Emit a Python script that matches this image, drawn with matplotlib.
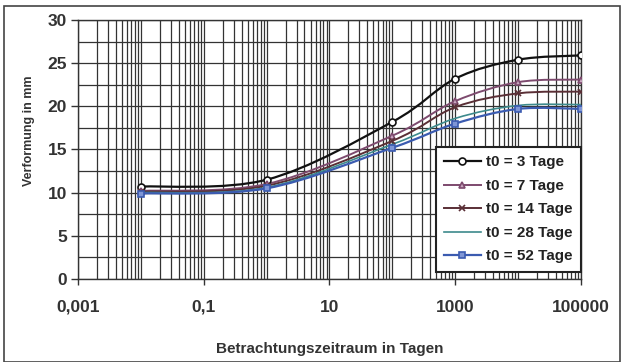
import numpy as np
import matplotlib
matplotlib.use("Agg")
import matplotlib.pyplot as plt
from matplotlib.path import Path
from matplotlib.patches import PathPatch, Rectangle
from matplotlib.lines import Line2D
from matplotlib.ticker import FixedLocator, LogLocator, NullFormatter

plt.rcParams["font.family"] = ["Liberation Sans", "DejaVu Sans"]
plt.rcParams["font.weight"] = "bold"

# Betrachtungszeitraum in Tagen
days = [0.01, 1, 100, 1000, 10000, 100000]

# Verformung in mm je Belastungsbeginn t0
t0_3 = [10.7, 11.5, 18.2, 23.2, 25.4, 25.9]
t0_7 = [10.2, 11.0, 16.6, 20.6, 22.8, 23.1]
t0_14 = [10.1, 10.8, 16.0, 19.9, 21.5, 21.7]
t0_28 = [10.0, 10.6, 15.6, 18.6, 20.1, 20.2]
t0_52 = [9.9, 10.5, 15.2, 18.0, 19.7, 19.7]

labels = ["t0 = 3 Tage", "t0 = 7 Tage", "t0 = 14 Tage", "t0 = 28 Tage", "t0 = 52 Tage"]
xtick_vals = [0.001, 0.1, 10, 1000, 100000]
xtick_labels = ["0,001", "0,1", "10", "1000", "100000"]

series = [t0_3, t0_7, t0_14, t0_28, t0_52]
styles = [
    dict(color="#111111", marker="o", mfc="white", ms=5, lw=1.6),
    dict(color="#7d4a6e", marker="^", mfc="#c9a8c0", ms=5, lw=1.4),
    dict(color="#5a2f36", marker="x", mfc="none", ms=5, lw=1.4),
    dict(color="#3d8a8c", marker="None", mfc="none", ms=0, lw=1.2),
    dict(color="#3b5bb0", marker="s", mfc="#7f96d6", ms=5, lw=1.6),
]


def smooth_path(xs, ys):
    # excel-like smoothed line: catmull-rom bezier in (log x, y)
    lx = np.log10(xs)
    pts = np.column_stack([lx, ys])
    p = np.vstack([pts[0], pts, pts[-1]])
    verts = [pts[0]]
    codes = [Path.MOVETO]
    for i in range(1, len(p) - 2):
        c1 = p[i] + (p[i + 1] - p[i - 1]) / 6
        c2 = p[i + 1] - (p[i + 2] - p[i]) / 6
        verts += [c1, c2, p[i + 1]]
        codes += [Path.CURVE4] * 3
    verts = np.array(verts)
    verts[:, 0] = 10 ** verts[:, 0]
    return Path(verts, codes)


fig = plt.figure(figsize=(6.24, 3.62), dpi=100)
ax = fig.add_axes([0.125, 0.2293, 0.806, 0.7155])

ax.set_xscale("log")
ax.set_xlim(0.001, 100000)
ax.set_ylim(0, 30)

handles = []
for ys, st, lab in zip(series, styles, labels):
    patch = PathPatch(smooth_path(days, ys), fill=False, edgecolor=st["color"],
                      lw=st["lw"], zorder=3)
    ax.add_patch(patch)
    if st["marker"] != "None":
        ax.plot(days, ys, ls="none", marker=st["marker"], color=st["color"],
                mfc=st["mfc"], mec=st["color"], ms=st["ms"], mew=1.2, zorder=4)
    handles.append(Line2D([], [], color=st["color"], lw=st["lw"], marker=st["marker"],
                          mfc=st["mfc"], mec=st["color"], ms=st["ms"], mew=1.2))

ax.xaxis.set_major_locator(FixedLocator(xtick_vals))
ax.set_xticklabels(xtick_labels)
ax.xaxis.set_minor_locator(LogLocator(base=10, subs=np.arange(1, 10), numticks=50))
ax.xaxis.set_minor_formatter(NullFormatter())
ax.set_yticks(np.arange(0, 31, 5))
ax.set_yticks(np.arange(2.5, 30, 5), minor=True)

ax.grid(True, which="both", color="#333333", lw=0.9)
ax.set_axisbelow(True)
ax.tick_params(axis="x", which="major", length=4, width=1, color="#333333",
               labelsize=12.5, pad=11)
ax.tick_params(axis="x", which="minor", length=0)
ax.tick_params(axis="y", which="major", length=5, width=1, color="#333333",
               labelsize=12.5, pad=3)
ax.tick_params(axis="y", which="minor", length=0)
for s in ax.spines.values():
    s.set_color("#333333")
    s.set_linewidth(1.0)
for t in ax.get_xticklabels() + ax.get_yticklabels():
    t.set_fontweight("bold")
    t.set_color("#333333")

ax.set_xlabel("Betrachtungszeitraum in Tagen", fontsize=11, fontweight="bold",
              color="#333333")
ax.xaxis.set_label_coords(0.501, -0.269)
ax.xaxis.label.set_va("center")
ax.set_ylabel("Verformung in mm", fontsize=9, fontweight="bold",
              color="#333333")
ax.yaxis.set_label_coords(-0.0974, 0.573)
ax.yaxis.label.set_va("center")

leg = ax.legend(handles, labels, loc="lower right", bbox_to_anchor=(1.0, 0.028),
                frameon=True, fancybox=False, handlelength=2.4,
                handletextpad=0.35, labelspacing=0.62, borderpad=0.55,
                borderaxespad=0.0, prop={"weight": "bold", "size": 11})
leg.get_frame().set_edgecolor("#222222")
leg.get_frame().set_linewidth(1.5)
leg.get_frame().set_alpha(1)
for t in leg.get_texts():
    t.set_color("#222222")

fig.patches.append(Rectangle((0.007, 0.0), 0.986, 0.983, transform=fig.transFigure,
                             fill=False, edgecolor="#444444", lw=1.2))

fig.savefig("out.png", dpi=100)
